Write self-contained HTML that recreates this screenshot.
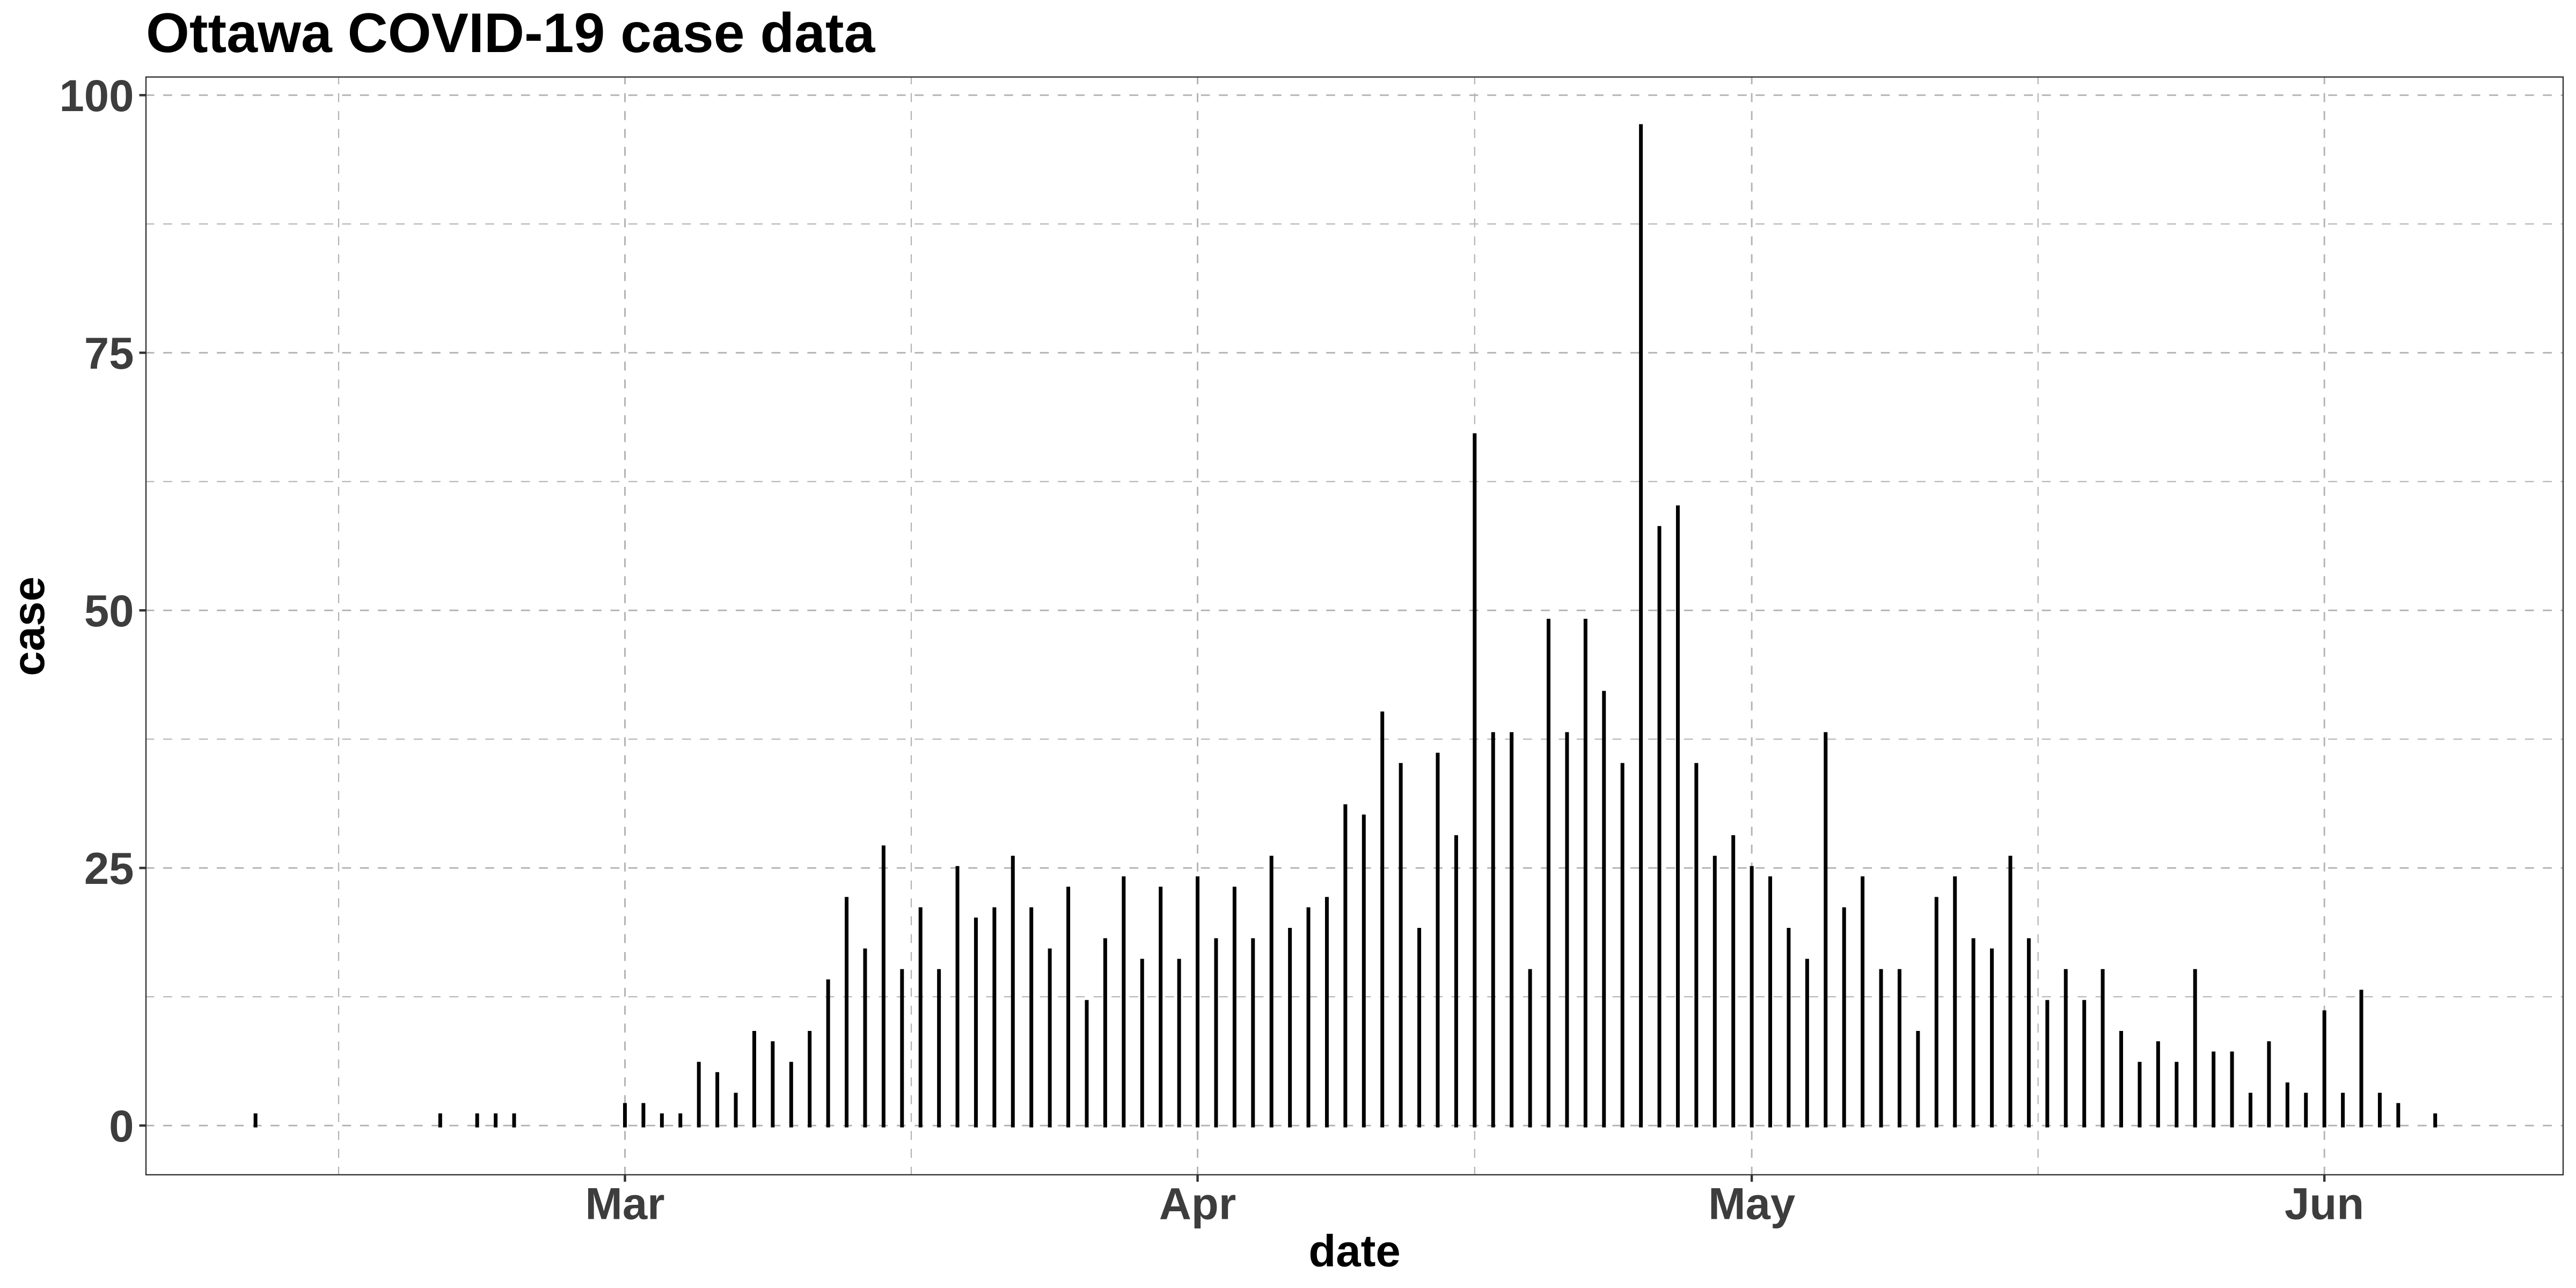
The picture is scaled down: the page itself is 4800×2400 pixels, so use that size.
<!DOCTYPE html>
<html lang="en">
<head>
<meta charset="utf-8">
<title>Ottawa COVID-19 case data</title>
<style>
html,body{margin:0;padding:0;background:#fff;}
svg{display:block;}
text{font-family:"Liberation Sans",Arial,sans-serif;font-weight:bold;}
</style>
</head>
<body>
<svg id="chart" xmlns="http://www.w3.org/2000/svg" width="4800" height="2400" viewBox="0 0 4800 2400">
  <rect x="0" y="0" width="4800" height="2400" fill="#ffffff"/>
  <text x="272" y="97" font-size="104" fill="#000000">Ottawa COVID-19 case data</text>
  <g id="grid"></g>
  <g id="bars"></g>
  <rect x="272" y="143.5" width="4504" height="2045.5" fill="none" stroke="#333333" stroke-width="2.4"/>
  <g id="axes"></g>
  <text x="2524" y="2359.5" font-size="83.33" fill="#000000" text-anchor="middle">date</text>
  <text transform="translate(82 1167) rotate(-90)" font-size="83.33" fill="#000000" text-anchor="middle">case</text>
</svg>
<script>
const caseDates = [
"2020-02-10","2020-02-20","2020-02-22","2020-02-23","2020-02-24",
"2020-03-01","2020-03-02","2020-03-03","2020-03-04","2020-03-05","2020-03-06","2020-03-07","2020-03-08","2020-03-09","2020-03-10",
"2020-03-11","2020-03-12","2020-03-13","2020-03-14","2020-03-15","2020-03-16","2020-03-17","2020-03-18","2020-03-19","2020-03-20",
"2020-03-21","2020-03-22","2020-03-23","2020-03-24","2020-03-25","2020-03-26","2020-03-27","2020-03-28","2020-03-29","2020-03-30","2020-03-31",
"2020-04-01","2020-04-02","2020-04-03","2020-04-04","2020-04-05","2020-04-06","2020-04-07","2020-04-08","2020-04-09","2020-04-10",
"2020-04-11","2020-04-12","2020-04-13","2020-04-14","2020-04-15","2020-04-16","2020-04-17","2020-04-18","2020-04-19","2020-04-20",
"2020-04-21","2020-04-22","2020-04-23","2020-04-24","2020-04-25","2020-04-26","2020-04-27","2020-04-28","2020-04-29","2020-04-30",
"2020-05-01","2020-05-02","2020-05-03","2020-05-04","2020-05-05","2020-05-06","2020-05-07","2020-05-08","2020-05-09","2020-05-10",
"2020-05-11","2020-05-12","2020-05-13","2020-05-14","2020-05-15","2020-05-16","2020-05-17","2020-05-18","2020-05-19","2020-05-20",
"2020-05-21","2020-05-22","2020-05-23","2020-05-24","2020-05-25","2020-05-26","2020-05-27","2020-05-28","2020-05-29","2020-05-30","2020-05-31",
"2020-06-01","2020-06-02","2020-06-03","2020-06-04","2020-06-05","2020-06-07"
];
const caseValues = [
1,1,1,1,1,
2,2,1,1,6,5,3,9,8,6,
9,14,22,17,27,15,21,15,25,20,
21,26,21,17,23,12,18,24,16,23,16,
24,18,23,18,26,19,21,22,31,30,
40,35,19,36,28,67,38,38,15,49,
38,49,42,35,97,58,60,35,26,28,
25,24,19,16,38,21,24,15,15,9,
22,24,18,17,26,18,12,15,12,15,
9,6,8,6,15,7,7,3,8,4,3,
11,3,13,3,2,1
];
const xTickDates = ["2020-03-01","2020-04-01","2020-05-01","2020-06-01"];
const xTickLabels = ["Mar","Apr","May","Jun"];
const xMinorDates = ["2020-02-15","2020-03-16","2020-04-16","2020-05-16"];
const xMinorHalfDay = [-0.5,0.5,0,0.5];
const yTickValues = [0,25,50,75,100];
const yMinorValues = [12.5,37.5,62.5,87.5];

const SVGNS = "http://www.w3.org/2000/svg";
const PANEL = {left:272, right:4776, top:143.5, bottom:2189};
function days(iso){
  const p = iso.split("-").map(Number);
  return (Date.UTC(p[0],p[1]-1,p[2]) - Date.UTC(2020,2,1)) / 86400000;
}
function xScale(d){ return 1164.5 + 34.42 * d; }
function yScale(v){ return 2097.3 - 19.2 * v; }
function line(parent,x1,y1,x2,y2,stroke,width,dash,cap,offset){
  const el = document.createElementNS(SVGNS,"line");
  el.setAttribute("x1",x1);
  el.setAttribute("y1",y1);
  el.setAttribute("x2",x2);
  el.setAttribute("y2",y2);
  el.setAttribute("stroke",stroke);
  el.setAttribute("stroke-width",width);
  if(dash) el.setAttribute("stroke-dasharray",dash);
  if(offset) el.setAttribute("stroke-dashoffset",offset);
  if(cap) el.setAttribute("stroke-linecap",cap);
  parent.appendChild(el);
  return el;
}
function label(parent,x,y,str,anchor){
  const el = document.createElementNS(SVGNS,"text");
  el.setAttribute("x",x);
  el.setAttribute("y",y);
  el.setAttribute("font-size","83.33");
  el.setAttribute("fill","#3d3d3d");
  el.setAttribute("text-anchor",anchor);
  el.textContent = str;
  parent.appendChild(el);
  return el;
}
const gridG = document.getElementById("grid");
const barsG = document.getElementById("bars");
const axesG = document.getElementById("axes");
const GRID = "#b3b3b3", DASH = "16.67 16.67";

yMinorValues.forEach(function(v){
  const el = line(gridG,PANEL.left,yScale(v),PANEL.right,yScale(v),GRID,2.2,DASH,null,1.3);
  
  
});
xMinorDates.forEach(function(dt,i){
  const x = xScale(days(dt)+xMinorHalfDay[i]);
  const el = line(gridG,x,PANEL.bottom,x,PANEL.top,GRID,2.2,DASH,null,1.7);
  
  
});
yTickValues.forEach(function(v){
  const el = line(gridG,PANEL.left,yScale(v),PANEL.right,yScale(v),GRID,2.9,DASH,null,1.3);
  
  
});
xTickDates.forEach(function(dt){
  const x = xScale(days(dt));
  const el = line(gridG,x,PANEL.bottom,x,PANEL.top,GRID,2.9,DASH,null,1.7);
  
  
});
caseDates.forEach(function(dt,i){
  const x = xScale(days(dt));
  const el = line(barsG,x,yScale(0),x,yScale(caseValues[i]),"#000000",7,null,"square");
  
  
});
yTickValues.forEach(function(v){
  const y = yScale(v);
  const t = line(axesG,259.5,y,272,y,"#333333",4.4);
  
  
  const l = label(axesG,249.5,y+29.5,String(v),"end");
  
  
});
xTickDates.forEach(function(dt,i){
  const x = xScale(days(dt));
  const t = line(axesG,x,PANEL.bottom,x,PANEL.bottom+13,"#333333",4.4);
  
  
  const l = label(axesG,x,2271.5,xTickLabels[i],"middle");
  
  
});
</script>
</body>
</html>
